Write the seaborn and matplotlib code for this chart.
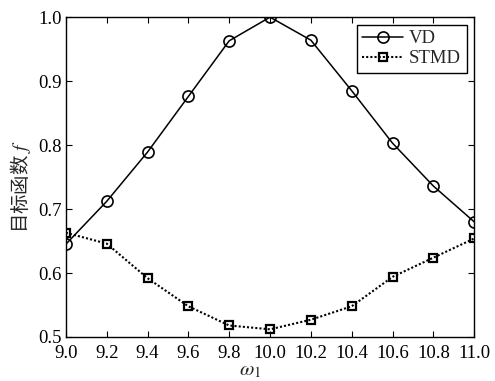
import matplotlib
matplotlib.use("Agg")
import matplotlib.pyplot as plt
import seaborn as sns
import pandas as pd

omega = [9.0, 9.2, 9.4, 9.6, 9.8, 10.0, 10.2, 10.4, 10.6, 10.8, 11.0]
vd = [0.645, 0.712, 0.789, 0.876, 0.963, 1.0, 0.964, 0.885, 0.803, 0.736, 0.680]
stmd = [0.663, 0.646, 0.592, 0.548, 0.518, 0.512, 0.527, 0.548, 0.594, 0.624, 0.654]
x_ticks = [9.0, 9.2, 9.4, 9.6, 9.8, 10.0, 10.2, 10.4, 10.6, 10.8, 11.0]
y_ticks = [0.5, 0.6, 0.7, 0.8, 0.9, 1.0]

sns.set_theme(style="ticks")
plt.rcParams["font.family"] = ["Liberation Serif", "Noto Sans CJK SC"]
plt.rcParams["mathtext.fontset"] = "stix"
plt.rcParams["xtick.direction"] = "in"
plt.rcParams["ytick.direction"] = "in"

df = pd.DataFrame({"omega": omega, "VD": vd, "STMD": stmd})

fig = plt.figure(figsize=(4.95, 3.81), dpi=100)
ax = fig.add_axes([0.133, 0.1155, 0.825, 0.8395])

sns.lineplot(data=df, x="omega", y="VD", ax=ax, color="black", linewidth=1.1,
             marker="o", markersize=8, markerfacecolor="none",
             markeredgecolor="black", markeredgewidth=1.2, label="VD")
sns.lineplot(data=df, x="omega", y="STMD", ax=ax, color="black", linewidth=1.5,
             linestyle=(0, (1, 1)), marker="s", markersize=6, markerfacecolor="none",
             markeredgecolor="black", markeredgewidth=1.6, label="STMD")

ax.set_xlim(9.0, 11.0)
ax.set_ylim(0.5, 1.0)
ax.set_xticks(x_ticks)
ax.set_xticklabels([f"{t:.1f}" for t in x_ticks])
ax.set_yticks(y_ticks)
ax.set_yticklabels([f"{t:.1f}" for t in y_ticks])
ax.tick_params(top=True, right=True, labelsize=13.5, length=4, width=0.8,
               colors="black")
ax.tick_params(axis="x", pad=6)
ax.tick_params(axis="y", pad=3)
for s in ax.spines.values():
    s.set_color("black")
    s.set_linewidth(1.0)

ax.set_xlabel(r"$\omega_1$", fontsize=15)
ax.xaxis.set_label_coords(0.45, -0.075)
# CJK family first so the non-math part of the mathtext string finds the glyphs
ax.set_ylabel("目标函数 $f$", fontsize=14, family="Noto Sans CJK SC")
ax.yaxis.set_label_coords(-0.08, 0.47)

leg = ax.legend(loc="upper right", fontsize=13.5, frameon=True, fancybox=False,
                edgecolor="black", framealpha=1, borderpad=0.3,
                handlelength=2.2, handletextpad=0.3, labelspacing=0.15,
                borderaxespad=0.4)
leg.get_frame().set_linewidth(1.0)

fig.savefig("out.png", dpi=100)
